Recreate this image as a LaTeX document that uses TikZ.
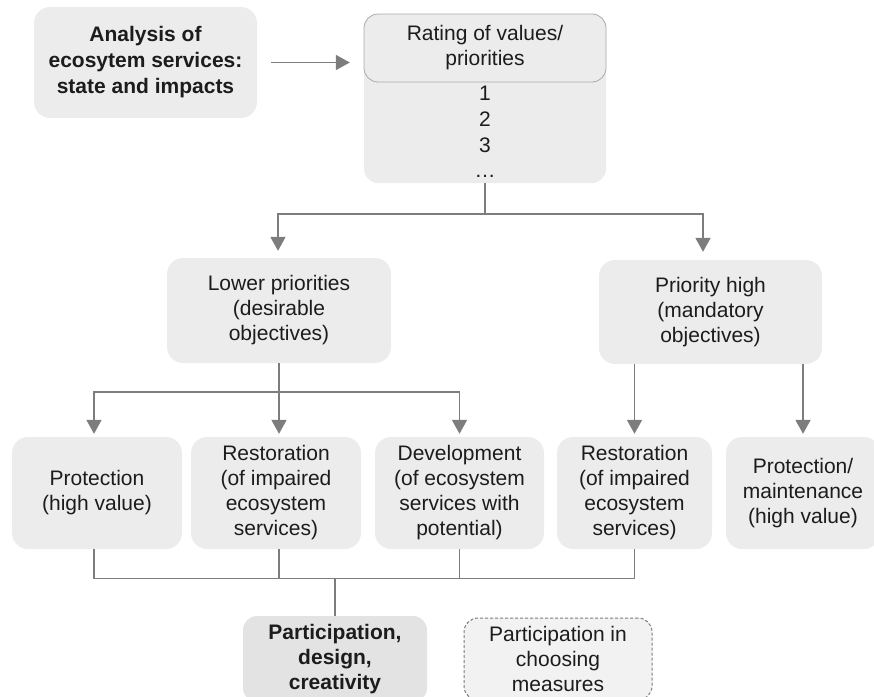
\documentclass[tikz,border=0pt]{standalone}
\usepackage{fontspec}
\setmainfont{Liberation Sans}
\usetikzlibrary{arrows.meta}
\definecolor{boxfill}{RGB}{236,236,236}
\definecolor{keyfill}{RGB}{227,227,228}
\definecolor{softfill}{RGB}{242,242,242}
\definecolor{linegray}{RGB}{125,125,128}
\definecolor{rimgray}{RGB}{170,170,170}
\definecolor{txt}{RGB}{28,28,28}
\begin{document}
\begin{tikzpicture}[x=1pt,y=-1pt,
  box/.style={rectangle, rounded corners=16pt, fill=boxfill, text=txt,
    align=center, inner sep=0pt, font=\fontsize{21}{25}\selectfont},
  label/.style={text=txt, inner sep=0pt, font=\fontsize{21}{25}\selectfont},
  arr/.style={draw=linegray, line width=1.8pt,
    -{Triangle[length=14pt,width=15pt]}},
  link/.style={draw=linegray, line width=1.4pt}]
\useasboundingbox (0,0) rectangle (874,696);
\clip (0,0) rectangle (874,696);

% top row
\node[box, minimum width=223pt, minimum height=111pt, font=\fontsize{21}{26}\selectfont\bfseries]
  (ana) at (145.5,62.5) {Analysis of\\ecosytem services:\\state and impacts};
\node[box, rounded corners=14pt, minimum width=242pt, minimum height=169pt]
  (rating) at (485,98.5) {};
\node[box, rounded corners=14pt, draw=rimgray, line width=0.8pt,
  minimum width=242pt, minimum height=68pt] (ratinghead) at (485,48)
  {Rating of values/\\priorities};
\node[label, anchor=base] (r1n) at (485,100) {1};
\node[label, anchor=base] (r2n) at (485,126) {2};
\node[label, anchor=base] (r3n) at (485,152) {3};
\node[label, anchor=base] (r4n) at (485,177) {…};

% priority level
\node[box, minimum width=224pt, minimum height=105pt] (lowp) at (279,310.5)
  {Lower priorities\\(desirable\\objectives)};
\node[box, minimum width=223pt, minimum height=104pt] (high) at (710.5,312)
  {Priority high\\(mandatory\\objectives)};

% objectives
\node[box, minimum width=170pt, minimum height=112pt] (prot) at (97,493)
  {Protection\\(high value)};
\node[box, minimum width=170pt, minimum height=112pt] (rest) at (276,493)
  {Restoration\\(of impaired\\ecosystem\\services)};
\node[box, minimum width=169pt, minimum height=112pt] (dev) at (459.5,493)
  {Development\\(of ecosystem\\services with\\potential)};
\node[box, minimum width=155pt, minimum height=112pt] (restb) at (634.5,493)
  {Restoration\\(of impaired\\ecosystem\\services)};
\node[box, minimum width=154pt, minimum height=112pt] (maint) at (803,493)
  {Protection/\\maintenance\\(high value)};

% participation
\node[box, fill=keyfill, rounded corners=14pt, minimum width=184pt, minimum height=86pt,
  font=\fontsize{21}{25}\selectfont\bfseries] (part) at (335,659)
  {Participation,\\design,\\creativity};
\node[box, fill=softfill, draw=linegray, line width=1pt, dashed,
  dash pattern=on 3pt off 2pt, rounded corners=14pt,
  minimum width=188pt, minimum height=82pt] (choose) at (558,659)
  {Participation in\\choosing\\measures};

% connectors
\draw[arr, shorten <=14pt, shorten >=14pt] (ana.east) -- (ana.east -| rating.west);
\draw[arr, shorten >=7pt] (rating.south) -- ++(0,31) coordinate (split) -| ([xshift=-1pt]lowp.north);
\draw[arr, shorten >=8pt] (split) -| ([xshift=-7.5pt]high.north);

\draw[link] (lowp.south) -- ++(0,29) coordinate (fork);
\draw[arr, shorten >=3pt] (fork) -| ([xshift=-3pt]prot.north);
\draw[arr, shorten >=3pt] (fork) -| (dev.north);
\draw[arr, shorten >=3pt] (fork) -- ([xshift=3pt]rest.north);

\draw[arr, shorten >=3pt] (high.south -| restb.north) -- (restb.north);
\draw[arr, shorten >=3pt] (high.south -| maint.north) -- (maint.north);

\draw[link] ([xshift=-3pt]prot.south) -- ++(0,29) coordinate (join) -| (restb.south);
\draw[link] ([xshift=3pt]rest.south) -- ([xshift=3pt]rest.south |- join);
\draw[link] (dev.south) -- (dev.south |- join);
\draw[link] (part.north |- join) -- (part.north);
\end{tikzpicture}
\end{document}
